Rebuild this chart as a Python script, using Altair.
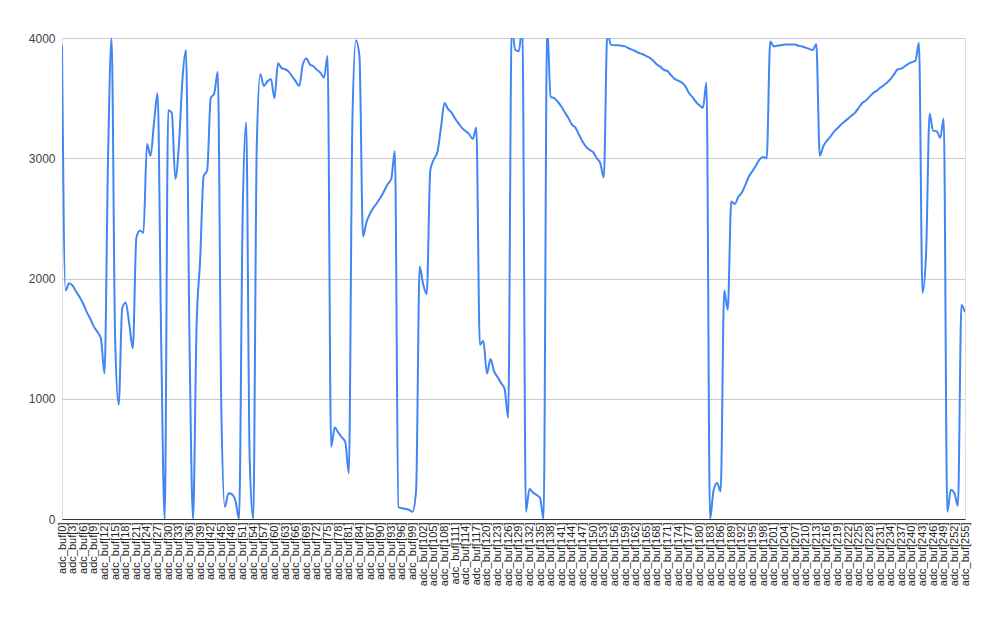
import altair as alt
import pandas as pd

labels = [f"adc_buf[{i}]" for i in range(256)]

values = [
    3940, 1900, 1960, 1940, 1890, 1845, 1790, 1720, 1665, 1600, 1555, 1500, 1210, 3000, 4000, 1500,
    950, 1750, 1800, 1620, 1420, 2340, 2400, 2380, 3120, 3020, 3300, 3540, 1500, 0, 3400, 3380,
    2830, 3100, 3650, 3900, 1500, 0, 1600, 2150, 2850, 2900, 3500, 3540, 3720, 900, 100, 215,
    205, 150, 0, 2500, 3300, 500, 0, 3100, 3700, 3600, 3640, 3660, 3500, 3790, 3750, 3740,
    3720, 3680, 3640, 3600, 3780, 3830, 3780, 3765, 3735, 3710, 3670, 3850, 600, 760, 720, 680,
    640, 380, 3300, 3980, 3850, 2350, 2470, 2540, 2590, 2630, 2675, 2730, 2785, 2830, 3060, 100,
    90, 85, 77, 60, 240, 2100, 1950, 1870, 2900, 2990, 3050, 3250, 3460, 3410, 3380, 3330,
    3290, 3250, 3225, 3200, 3160, 3255, 1450, 1480, 1210, 1330, 1230, 1180, 1130, 1080, 840, 4100,
    3900, 3890, 4100, 60, 250, 220, 200, 175, 0, 4100, 3510, 3500, 3470, 3430, 3380, 3335,
    3280, 3255, 3195, 3140, 3095, 3070, 3050, 3000, 2960, 2840, 4050, 3945, 3940, 3940, 3935, 3930,
    3915, 3903, 3890, 3875, 3865, 3850, 3835, 3810, 3780, 3760, 3735, 3725, 3690, 3660, 3645, 3630,
    3600, 3545, 3510, 3470, 3440, 3420, 3630, 0, 240, 300, 230, 1900, 1740, 2640, 2620, 2680,
    2715, 2780, 2850, 2895, 2940, 2990, 3010, 3000, 3970, 3930, 3935, 3940, 3945, 3945, 3945, 3945,
    3935, 3930, 3920, 3910, 3900, 3950, 3020, 3100, 3145, 3180, 3220, 3250, 3280, 3305, 3330, 3355,
    3380, 3420, 3460, 3480, 3510, 3540, 3560, 3585, 3605, 3630, 3660, 3700, 3740, 3745, 3765, 3785,
    3800, 3810, 3960, 1880, 2200, 3370, 3230, 3225, 3170, 3330, 60, 243, 215, 110, 1780, 1720,
]
assert len(values) == 256

tick_labels = labels[::3]
y_ticks = [0, 1000, 2000, 3000, 4000]

df = pd.DataFrame({"label": labels, "value": values})

chart = (
    alt.Chart(df)
    .mark_line(interpolate="monotone", color="#4285F4", strokeWidth=2, clip=True)
    .encode(
        x=alt.X(
            "label:N",
            sort=labels,
            scale=alt.Scale(type="point", padding=0),
            axis=alt.Axis(
                values=tick_labels,
                labelAngle=-90,
                labelFontSize=11,
                labelColor="#222222",
                labelFont="Liberation Sans",
                ticks=False,
                domainColor="#333333",
                domainWidth=1,
                labelOverlap=False,
                labelPadding=3,
                grid=False,
                title=None,
            ),
        ),
        y=alt.Y(
            "value:Q",
            scale=alt.Scale(domain=[0, 4000], nice=False),
            axis=alt.Axis(
                values=y_ticks,
                format="d",
                title=None,
                domain=False,
                ticks=False,
                labelFontSize=12,
                labelFont="Liberation Sans",
                labelColor="#444444",
                gridColor="#cccccc",
                labelPadding=7,
            ),
        ),
    )
    .properties(
        width=903,
        height=481,
        padding={"left": 54, "top": 30, "right": 20, "bottom": 85},
        autosize=alt.AutoSizeParams(type="none"),
    )
    .configure_view(stroke=None)
    .configure(background="white")
)

chart.save("out.html", embed_options={"renderer": "svg", "actions": False})
